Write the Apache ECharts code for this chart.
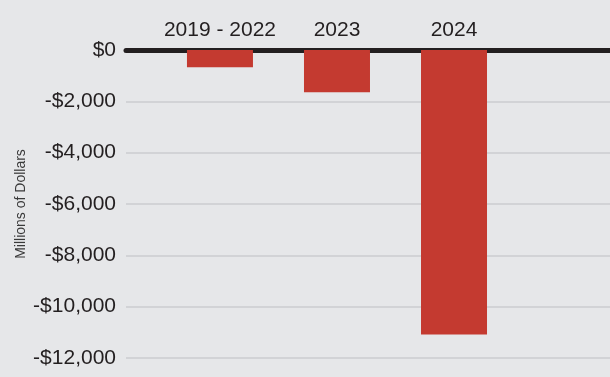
<!DOCTYPE html>
<html>
<head>
<meta charset="utf-8">
<script src="https://cdn.jsdelivr.net/npm/echarts@6/dist/echarts.min.js"></script>
<style>
  html, body { margin: 0; padding: 0; background: #e6e7e9; }
  #chart { width: 610px; height: 377px; }
</style>
</head>
<body>
<div id="chart"></div>
<script>
// data (millions of dollars)
var categories = ['2019 - 2022', '2023', '2024'];
var values = [-670, -1645, -11080];
var yTicks = [0, -2000, -4000, -6000, -8000, -10000, -12000];

// no narrow face installed, Liberation Sans is the tightest we have
var FONT = '"Liberation Sans", Arial, sans-serif';
var INK = '#231f20';

function money(v) {
  if (v === 0) return '$0';
  var s = Math.abs(v).toLocaleString('en-US');
  return (v < 0 ? '-$' : '$') + s;
}

var chart = echarts.init(document.getElementById('chart'), null, { renderer: 'canvas' });

chart.setOption({
  backgroundColor: '#e6e7e9',
  animation: false,
  grid: { left: 126, right: 0, top: 50, bottom: 19, outerBoundsMode: 'none', containLabel: false },
  xAxis: {
    type: 'value',
    position: 'top',
    // bars sit at 1, 2, 3 — range chosen so the slots line up like the original
    min: 0.197,
    max: 4.333,
    axisLine: { show: true, onZero: false, lineStyle: { color: INK, width: 5 } },
    axisTick: { show: false },
    splitLine: { show: false },
    axisLabel: {
      customValues: [1, 2, 3],
      margin: 9,
      color: INK,
      fontFamily: FONT,
      fontSize: 21,
      formatter: function (v) { return categories[Math.round(v) - 1] || ''; }
    }
  },
  yAxis: {
    type: 'value',
    min: yTicks[yTicks.length - 1],
    max: yTicks[0],
    interval: 2000,
    name: 'Millions of Dollars',
    nameLocation: 'middle',
    nameGap: 98,
    nameMoveOverlap: false,
    nameTextStyle: { color: '#3a3a3a', fontFamily: FONT, fontSize: 14 },
    axisLine: { show: false },
    axisTick: { show: false },
    splitLine: { lineStyle: { color: '#d2d3d6', width: 2 } },
    axisLabel: {
      margin: 10,
      color: INK,
      fontFamily: FONT,
      fontSize: 21,
      formatter: money
    }
  },
  series: [{
    type: 'bar',
    barWidth: 66,
    itemStyle: { color: '#c43a30' },
    data: values.map(function (v, i) { return [i + 1, v]; })
  }]
});
</script>
</body>
</html>
